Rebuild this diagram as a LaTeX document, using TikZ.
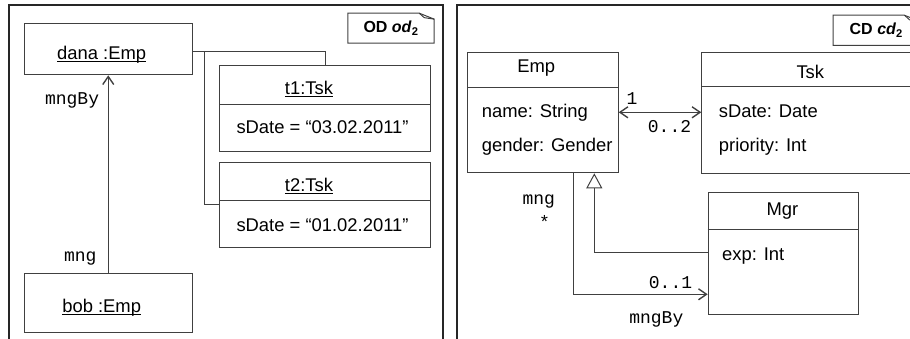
\documentclass[tikz,border=0pt]{standalone}
\usepackage{fontspec}
\setmainfont{Liberation Sans}
\setmonofont{Liberation Mono}
\usetikzlibrary{arrows.meta,calc}

\newcommand{\undl}[1]{\setbox0\hbox{#1}\rlap{\rule[-2pt]{\wd0}{0.9pt}}\box0}

\tikzset{
	frame/.style={draw=black!85,line width=2pt},
	box/.style={draw=black!75,line width=1pt,anchor=north west},
	lnk/.style={draw=black!75,line width=1pt},
	role/.style={font=\fontsize{18}{22}\selectfont\ttfamily},
	tag/.style={draw=none,minimum width=86pt,minimum height=29.7pt,font=\fontsize{16}{19}\selectfont\bfseries},
	inh/.style={-{Triangle[open,length=15pt,width=16pt]}},
}

\begin{document}
\begin{tikzpicture}[x=1pt,y=-1pt,inner sep=0pt,font=\fontsize{18.4}{22}\selectfont,
		>={Straight Barb[length=8pt,width=11pt,line width=1.4pt]}]
	\useasboundingbox (0,0) rectangle (910,339);
	%cadres
	\draw[frame] (9,5) rectangle (443.3,341);
	\draw[frame] (457.3,5) rectangle (925,341);
	
	%OD od2
	\node[tag] (od) at (391,28.2) {OD \textit{od}\textsubscript{2}};
	\draw[lnk] (od.south west) -- (od.north west) -- ($(od.north east)+(-15,0)$) -- ($(od.north east)+(0,6)$) -- (od.south east) -- cycle;
	\draw[lnk] ($(od.north east)+(-15,0)$) -- ($(od.north east)+(-10,4.5)$) -- ($(od.north east)+(0,6)$);
	%dana
	\node[box,minimum width=168.5pt,minimum height=51.6pt] (dana) at (23.5,22.7) {};
	\node[anchor=base] (danaT) at (101.7,60) {\undl{dana :Emp}};
	%bob
	\node[box,minimum width=168.5pt,minimum height=59pt] (bob) at (23.5,273.3) {};
	\node[anchor=base] (bobT) at (101.7,312.5) {\undl{bob :Emp}};
	\draw[lnk,->] (bob) -- (dana);
	\node[role,anchor=base east] (rBy) at (99.3,104.3) {mngBy};
	\node[role,anchor=base east] (rMng) at (96.7,261.7) {mng};
	%t1
	\node[box,minimum width=211pt,minimum height=85.7pt] (t1) at (219.3,65.3) {};
	\draw[lnk] ($(t1.north west)+(0,39)$) -- ($(t1.north east)+(0,39)$);
	\node[anchor=base] (t1T) at (309,95) {\undl{t1:Tsk}};
	\node[anchor=base west] (t1A) at (236.3,134) {sDate = “03.02.2011”};
	%t2
	\node[box,minimum width=211pt,minimum height=85.3pt] (t2) at (219.3,161.7) {};
	\draw[lnk] ($(t2.north west)+(0,38.6)$) -- ($(t2.north east)+(0,38.6)$);
	\node[anchor=base] (t2T) at (309,192) {\undl{t2:Tsk}};
	\node[anchor=base west] (t2A) at (236.3,231) {sDate = “01.02.2011”};
	%liens
	\draw[lnk] ($(dana.north east)!0.55!(dana.south east)$) coordinate (dt) -| (t1.north);
	\coordinate (k) at (204.7,0);
	\draw[lnk] (dt -| k) |- (t2.west);
	
	%CD cd2
	\node[tag] (cd) at (876.3,30.3) {CD \textit{cd}\textsubscript{2}};
	\draw[lnk] (cd.south west) -- (cd.north west) -- ($(cd.north east)+(-15,0)$) -- ($(cd.north east)+(0,6)$) -- (cd.south east) -- cycle;
	\draw[lnk] ($(cd.north east)+(-15,0)$) -- ($(cd.north east)+(-10,4.5)$) -- ($(cd.north east)+(0,6)$);
	%Emp
	\node[box,minimum width=150.4pt,minimum height=120pt] (Emp) at (467.3,52.3) {};
	\draw[lnk] ($(Emp.north west)+(0,35)$) -- ($(Emp.north east)+(0,35)$);
	\node[anchor=base] (EmpT) at (536.3,72.7) {Emp};
	\node[anchor=base west] (EmpA1) at (481.7,117.7) {name: String};
	\node[anchor=base west] (EmpA2) at (481.7,151.7) {gender: Gender};
	%Tsk
	\node[box,minimum width=211pt,minimum height=121.3pt] (Tsk) at (701.3,51.7) {};
	\draw[lnk] ($(Tsk.north west)+(0,35)$) -- ($(Tsk.north east)+(0,35)$);
	\node[anchor=base] (TskT) at (810.3,78.3) {Tsk};
	\node[anchor=base west] (TskA1) at (718.7,117.7) {sDate: Date};
	\node[anchor=base west] (TskA2) at (718.7,151.7) {priority: Int};
	%Mgr
	\node[box,minimum width=150.6pt,minimum height=122pt] (Mgr) at (707.7,191.7) {};
	\draw[lnk] ($(Mgr.north west)+(0,37.6)$) -- ($(Mgr.north east)+(0,37.6)$);
	\node[anchor=base] (MgrT) at (782.5,215) {Mgr};
	\node[anchor=base west] (MgrA) at (722,260) {exp: Int};
	%Emp -- Tsk
	\coordinate (a1) at (0,112.3);
	\draw[lnk,<->] (Emp.east |- a1) -- (Tsk.west |- a1);
	\node[role,anchor=base] (m1) at (632,104.3) {1};
	\node[role,anchor=base] (m2) at (669.5,132.7) {0..2};
	%heritage
	\coordinate (g1) at (594.3,252.3);
	\draw[lnk,inh] (Mgr.west |- g1) -| (Emp.south -| g1);
	%mng
	\coordinate (s1) at (573,294.3);
	\draw[lnk,->] (Emp.south -| s1) |- (Mgr.west |- s1);
	\node[role,anchor=base] (rMng2) at (538.8,205) {mng};
	\node[role,anchor=base] (m3) at (544.5,229) {*};
	\node[role,anchor=base] (m4) at (670.5,288.3) {0..1};
	\node[role,anchor=base] (rBy2) at (656.3,323.3) {mngBy};
\end{tikzpicture}
\end{document}
